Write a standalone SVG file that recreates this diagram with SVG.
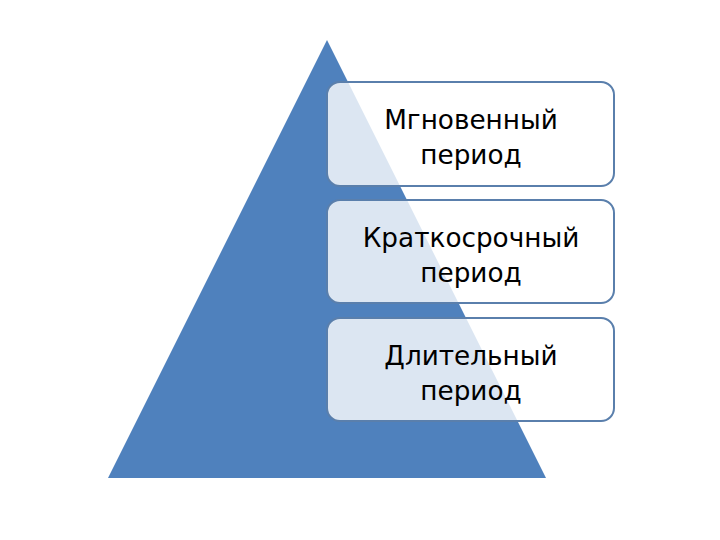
<svg xmlns="http://www.w3.org/2000/svg" width="720" height="540" viewBox="0 0 720 540">
<style>
.box{fill:#ffffff;fill-opacity:0.8;stroke:#5a7fac;stroke-width:2}
.t{font-family:"DejaVu Sans","Liberation Sans",sans-serif;font-size:26.3px;fill:#000;text-anchor:middle}
</style>
<rect width="720" height="540" fill="#ffffff"/>
<g id="pyramid"><polygon points="327,40 546,478 108,478" fill="#4f81bd"/></g>
<g id="connectors"></g>
<g id="box1"><rect class="box" x="327" y="82" width="287" height="104" rx="13"/>
<text class="t" x="471" y="129">Мгновенный</text><text class="t" x="471" y="164">период</text></g>
<g id="box2"><rect class="box" x="327" y="200" width="287" height="103" rx="13"/>
<text class="t" x="471" y="247">Краткосрочный</text><text class="t" x="471" y="282">период</text></g>
<g id="box3"><rect class="box" x="327" y="318" width="287" height="103" rx="13"/>
<text class="t" x="471" y="365">Длительный</text><text class="t" x="471" y="400">период</text></g>
</svg>
